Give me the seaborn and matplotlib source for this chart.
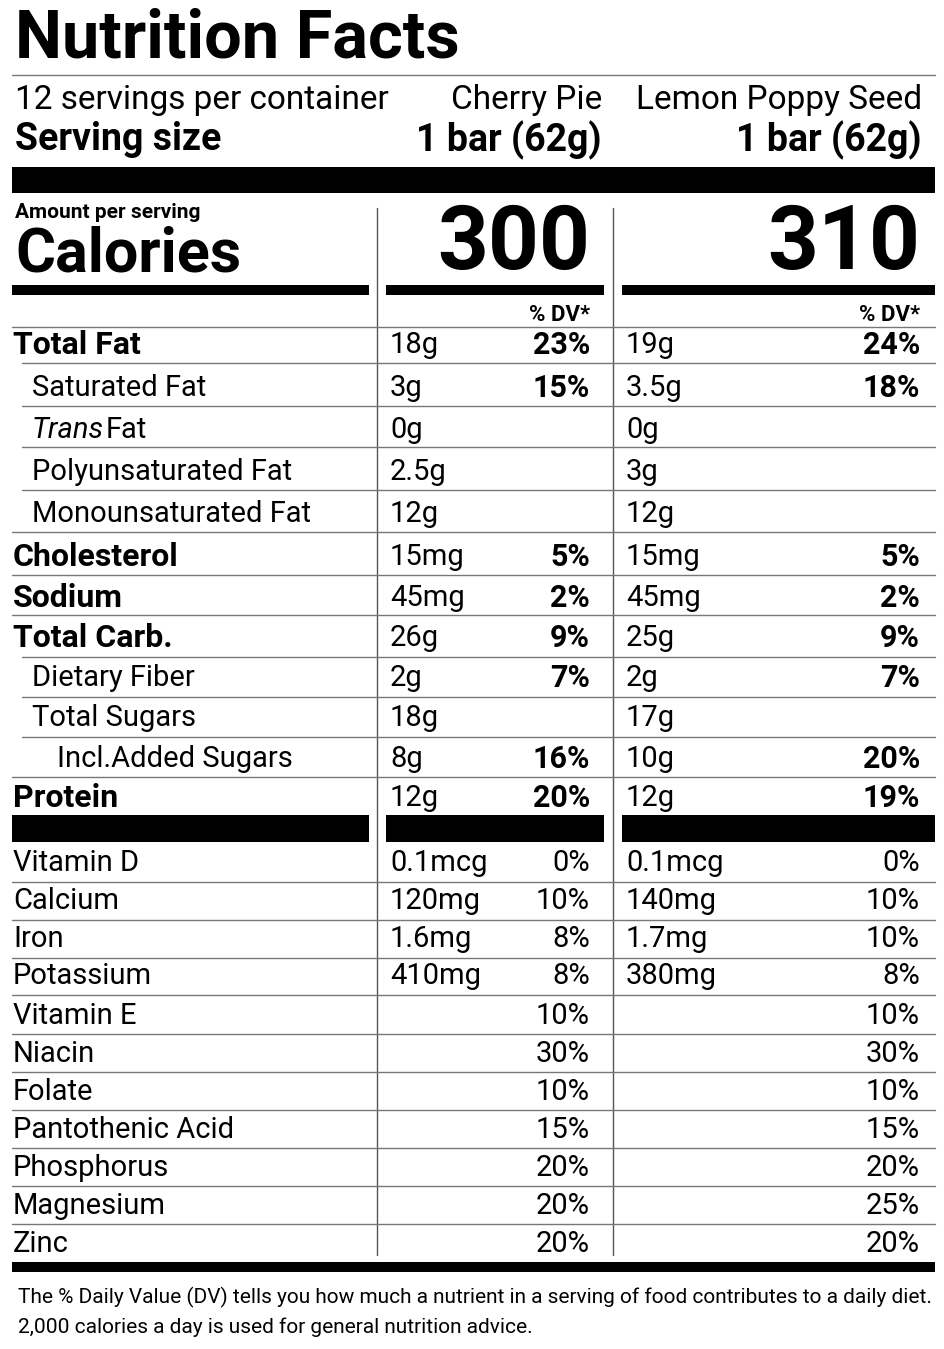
import matplotlib
matplotlib.use("Agg")
import matplotlib.pyplot as plt
import seaborn as sns

sns.set_style("white")
plt.rcParams["font.family"] = ["Liberation Sans Narrow", "Roboto", "DejaVu Sans"]

products = ["Cherry Pie", "Lemon Poppy Seed"]
serving = ["1 bar (62g)", "1 bar (62g)"]
calories = ["300", "310"]

nutrients = ["Total Fat", "Saturated Fat", "Trans Fat", "Polyunsaturated Fat", "Monounsaturated Fat",
             "Cholesterol", "Sodium", "Total Carb.", "Dietary Fiber", "Total Sugars",
             "Incl.Added Sugars", "Protein"]
indent = [0, 1, 1, 1, 1, 0, 0, 0, 1, 1, 2, 0]
amount_a = ["18g", "3g", "0g", "2.5g", "12g", "15mg", "45mg", "26g", "2g", "18g", "8g", "12g"]
dv_a = ["23%", "15%", "", "", "", "5%", "2%", "9%", "7%", "", "16%", "20%"]
amount_b = ["19g", "3.5g", "0g", "3g", "12g", "15mg", "45mg", "25g", "2g", "17g", "10g", "12g"]
dv_b = ["24%", "18%", "", "", "", "5%", "2%", "9%", "7%", "", "20%", "19%"]
row_y = [345, 388, 430, 472, 514, 557, 598, 638, 678, 718, 759, 798]
row_lines = [327, 363, 406, 447, 490, 532, 575, 615, 657, 697, 737, 777]

vitamins = ["Vitamin D", "Calcium", "Iron", "Potassium", "Vitamin E", "Niacin", "Folate",
            "Pantothenic Acid", "Phosphorus", "Magnesium", "Zinc"]
vit_amt_a = ["0.1mcg", "120mg", "1.6mg", "410mg", "", "", "", "", "", "", ""]
vit_dv_a = ["0%", "10%", "8%", "8%", "10%", "30%", "10%", "15%", "20%", "20%", "20%"]
vit_amt_b = ["0.1mcg", "140mg", "1.7mg", "380mg", "", "", "", "", "", "", ""]
vit_dv_b = ["0%", "10%", "10%", "8%", "10%", "30%", "10%", "15%", "20%", "25%", "20%"]
vit_y = [863, 901, 939, 976, 1016, 1054, 1092, 1130, 1168, 1206, 1244]
vit_lines = [882, 920, 958, 995, 1034, 1072, 1110, 1148, 1186, 1224]

fig = plt.figure(figsize=(9.45, 13.49), dpi=100)
ax = fig.add_axes([0, 0, 1, 1])
ax.set_xlim(0, 945)
ax.set_ylim(1349, 0)
ax.axis("off")

def txt(x, y, s, size, bold=False, ha="left", style="normal"):
    return ax.text(x, y, s, fontsize=size, fontweight="bold" if bold else "normal",
                   ha=ha, va="center", style=style, color="black")

def bar(y0, y1, x0=12, x1=935):
    ax.fill_between([x0, x1], y0, y1, color="black", lw=0)

def hline(y, x0=12, x1=935, lw=1):
    ax.plot([x0, x1], [y, y], color="#777777", lw=lw)

txt(15, 40, "Nutrition Facts", 48, bold=True)
hline(75)
txt(15, 100, "12 servings per container", 24)
txt(15, 140, "Serving size", 27, bold=True)
colA, colB = 590, 920
for x, p, s in zip([602, 922], products, serving):
    txt(x, 100, p, 24, ha="right")
    txt(x, 140, s, 27, bold=True, ha="right")
bar(167, 193)

txt(15, 213, "Amount per serving", 15, bold=True)
txt(15, 255, "Calories", 44, bold=True)
txt(colA, 245, calories[0], 64, bold=True, ha="right")
txt(colB, 245, calories[1], 64, bold=True, ha="right")
for x0, x1 in [(12, 369), (386, 604), (622, 935)]:
    bar(285, 295, x0, x1)
    bar(815, 842, x0, x1)
txt(colA, 315, "% DV*", 16, bold=True, ha="right")
txt(colB, 315, "% DV*", 16, bold=True, ha="right")

ax.plot([377, 377], [208, 1255], color="#555555", lw=1)
ax.plot([613, 613], [208, 1255], color="#555555", lw=1)

indent_x = [13, 32, 57]
for i, name in enumerate(nutrients):
    y = row_y[i]
    hline(row_lines[i], 12 if indent[i] == 0 else 22)
    bold = indent[i] == 0
    size = 23 if bold else 21
    if name == "Trans Fat":
        txt(indent_x[1], y, "Trans", size, style="italic")
        txt(indent_x[1] + 74, y, "Fat", size)
    else:
        txt(indent_x[indent[i]], y, name, size, bold=bold)
    txt(390, y, amount_a[i], 21)
    txt(626, y, amount_b[i], 21)
    txt(colA, y, dv_a[i], 22, bold=True, ha="right")
    txt(colB, y, dv_b[i], 22, bold=True, ha="right")

for i, name in enumerate(vitamins):
    y = vit_y[i]
    if i < len(vit_lines):
        hline(vit_lines[i])
    txt(13, y, name, 21)
    txt(390, y, vit_amt_a[i], 21)
    txt(626, y, vit_amt_b[i], 21)
    txt(colA, y, vit_dv_a[i], 21, ha="right")
    txt(colB, y, vit_dv_b[i], 21, ha="right")

bar(1262, 1272)
txt(18, 1297, "The % Daily Value (DV) tells you how much a nutrient in a serving of food contributes to a daily diet.", 15)
txt(18, 1327, "2,000 calories a day is used for general nutrition advice.", 15)

fig.savefig("out.png", dpi=100, facecolor="white")
